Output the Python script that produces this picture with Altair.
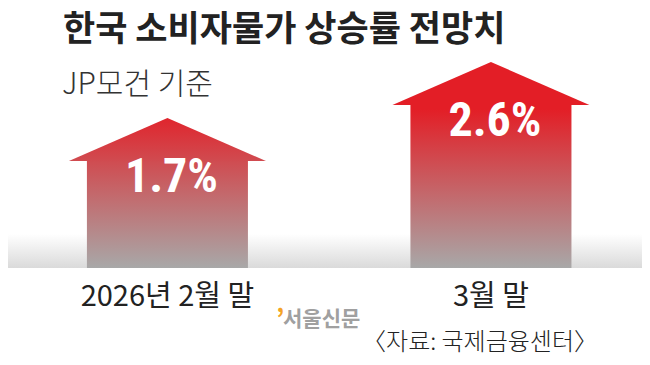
import altair as alt
import pandas as pd

# ---- data ----
PERIODS = ["2026년 2월 말", "3월 말"]
VALUES = [1.7, 2.6]
LABELS = ["1.7%", "2.6%"]
TITLE = "한국 소비자물가 상승률 전망치"
SUBTITLE = "JP모건 기준"
SOURCE = "〈자료: 국제금융센터〉"
WATERMARK = "서울신문"

# ---- layout / style ----
W, H = 634, 260
BASE, TOP = -0.711, 3.468
HEAD_W, HEAD_H = 197, 43
RED = (227, 30, 38)
GRAY = (168, 168, 168)
RED_END = 102  # px (plot coords) where the pure red ends
KR = "Noto Sans CJK KR"
NUM = "Liberation Sans Narrow, Roboto Condensed, DejaVu Sans Condensed, sans-serif"


def y_px(v):
    return H * (TOP - v) / (TOP - BASE)


def col(y):
    f = min(1.0, max(0.0, (y - RED_END) / (H - RED_END)))
    return "#%02x%02x%02x" % tuple(round(a + (b - a) * f) for a, b in zip(RED, GRAY))


def grad(y0, y1):
    stops = [(0.0, col(y0))]
    if y0 < RED_END < y1:
        stops.append(((RED_END - y0) / (y1 - y0), col(RED_END)))
    stops.append((1.0, col(y1)))
    return alt.Gradient(
        gradient="linear", x1=0, y1=0, x2=0, y2=1,
        stops=[alt.GradientStop(color=c, offset=o) for o, c in stops],
    )


df = pd.DataFrame({"period": PERIODS, "value": VALUES, "label": LABELS})
HEAD_UNITS = (HEAD_H - 1) * (TOP - BASE) / H
HEAD_PATH = "M0,0L1,%.4fL-1,%.4fZ" % (HEAD_H / (HEAD_W / 2), HEAD_H / (HEAD_W / 2))

xenc = alt.X(
    "period:N", sort=PERIODS,
    scale=alt.Scale(paddingInner=0.5023, paddingOuter=0.231, align=0.528),
    axis=alt.Axis(title=None, domain=False, ticks=False, labelAngle=0,
                  labelFont=KR, labelFontSize=29, labelColor="#222222",
                  labelPadding=14, grid=False),
)
yscale = alt.Scale(domain=[BASE, TOP], nice=False, zero=False)

base = alt.Chart(df)

band = alt.Chart(pd.DataFrame({"a": [0]})).mark_rect(
    fill=alt.Gradient(gradient="linear", x1=0, y1=0, x2=0, y2=1,
                      stops=[alt.GradientStop(color="#ffffff", offset=0),
                             alt.GradientStop(color="#dadada", offset=1)])
).encode(x=alt.value(0), x2=alt.value(W), y=alt.value(226), y2=alt.value(H))

layers = [band]
for i, (p, v) in enumerate(zip(PERIODS, VALUES)):
    tip = y_px(v)
    neck = tip + HEAD_H
    body = base.transform_filter(alt.datum.period == p).transform_calculate(
        neck=alt.datum.value - HEAD_UNITS, floor=str(BASE)
    ).mark_bar(fill=grad(neck, H), opacity=1, strokeWidth=0).encode(
        x=xenc,
        y=alt.Y("neck:Q", scale=yscale, axis=None),
        y2="floor:Q",
    )
    head = base.transform_filter(alt.datum.period == p).mark_point(
        shape=HEAD_PATH, size=HEAD_W ** 2, filled=True, fill=grad(tip, neck),
        opacity=1, strokeWidth=0,
    ).encode(x=xenc, y=alt.Y("value:Q", scale=yscale, axis=None))
    layers += [body, head]

vals = base.mark_text(
    font=NUM, fontSize=48, fontWeight="bold", color="white",
    baseline="alphabetic", dy=74, dx=4,
).encode(x=xenc, y=alt.Y("value:Q", scale=yscale, axis=None), text="label:N")
layers.append(vals)


def txt(s, x, y, **kw):
    return alt.Chart(pd.DataFrame({"t": [s]})).mark_text(baseline="alphabetic", **kw).encode(
        x=alt.value(x), y=alt.value(y), text="t:N")


layers += [
    txt(TITLE, 55, 33, font=KR, fontSize=35, fontWeight="bold", color="#222222", align="left"),
    txt(SUBTITLE, 54, 86, font=KR, fontSize=30, fontWeight=300, color="#333333", align="left"),
    txt("’", 268, 320, font=KR, fontSize=26, fontWeight="bold", color="#f4a324", align="left"),
    txt(WATERMARK, 275, 318, font=KR, fontSize=21, fontWeight="bold", color="#a0a0a0", align="left"),
    txt(SOURCE, 590, 342, font=KR, fontSize=24, fontWeight=300, color="#222222", align="right"),
]

chart = alt.layer(*layers).properties(
    width=W, height=H,
    autosize="none",
    padding={"left": 0, "top": 0, "right": 0, "bottom": 89},
).configure_view(stroke=None)

chart.save("out.html", embed_options={"renderer": "svg", "actions": False})
